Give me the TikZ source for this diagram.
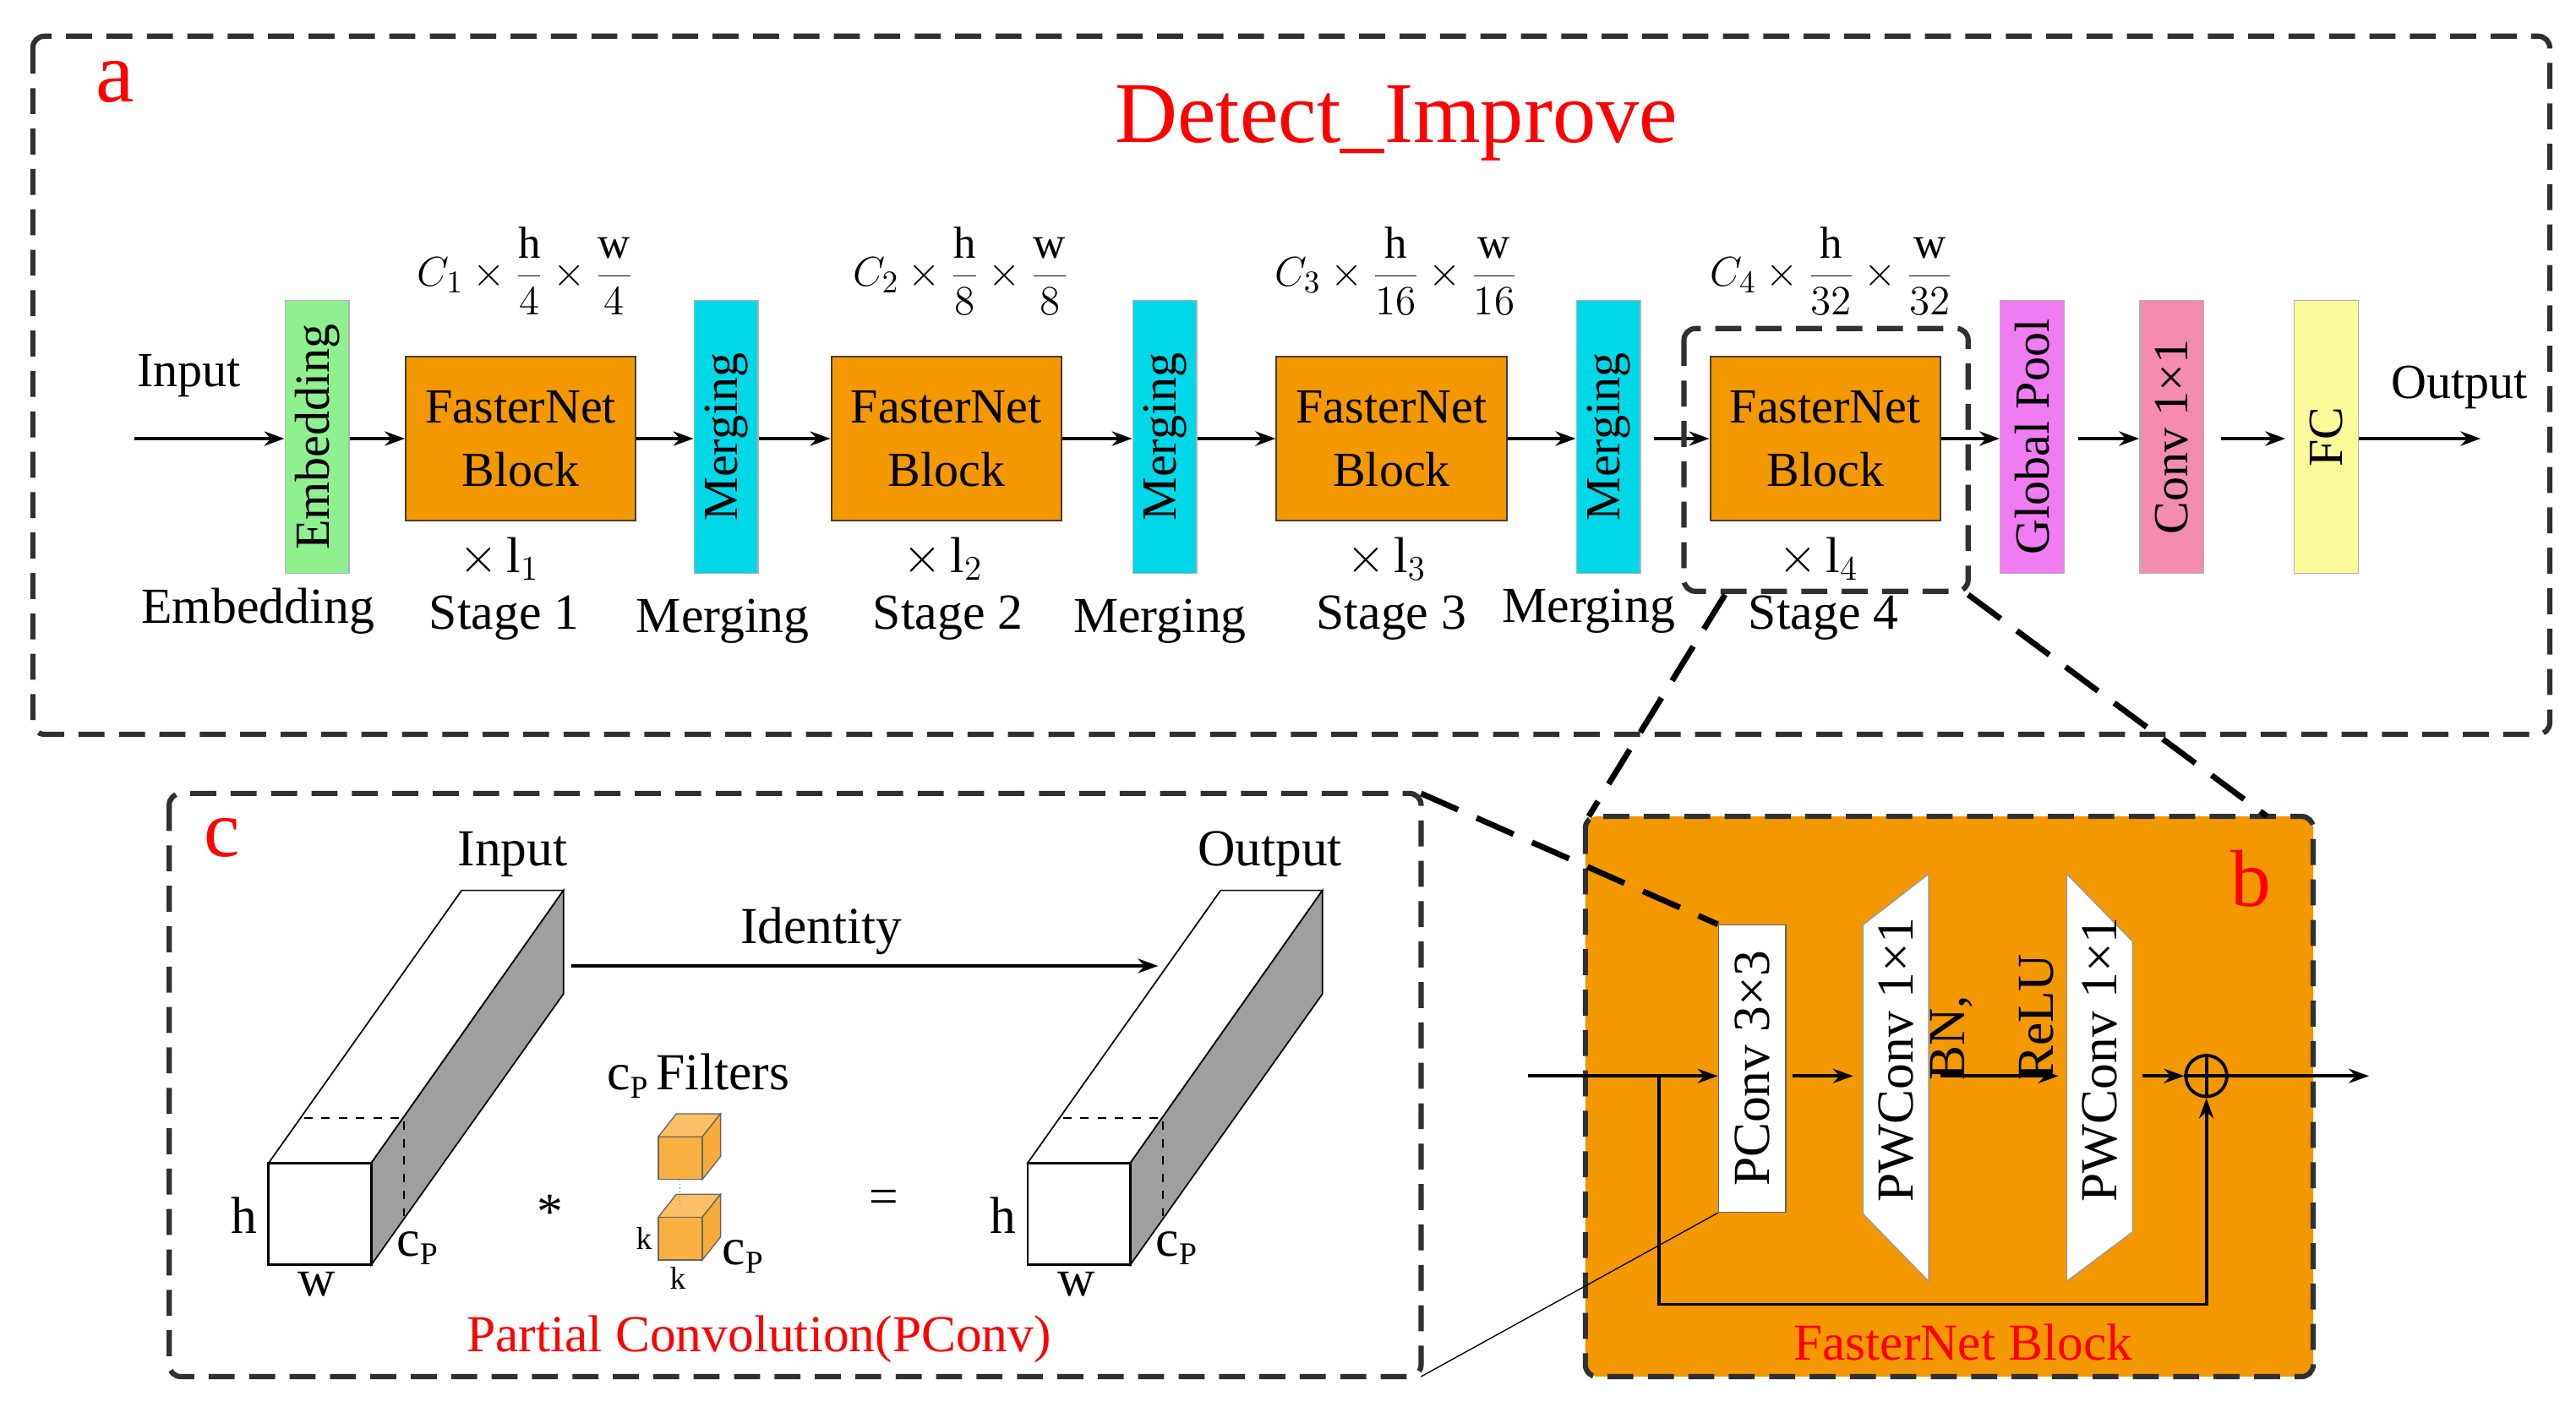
\documentclass[tikz,border=0pt]{standalone}
\usepackage{fontspec}
\setmainfont{Liberation Serif}
\usetikzlibrary{arrows.meta,calc}
\definecolor{orng}{HTML}{F39800}
\definecolor{grn}{HTML}{8EF08E}
\definecolor{cyn}{HTML}{00D8E8}
\definecolor{mag}{HTML}{F07CF4}
\definecolor{pnk}{HTML}{F48CB2}
\definecolor{ylw}{HTML}{FAFA9A}
\definecolor{cube}{HTML}{F8B040}
\definecolor{dk}{HTML}{303030}
\newcommand{\cpsub}{c\raisebox{-0.35ex}{\fontsize{11}{12}\selectfont P}}
\tikzset{
 fs/.style={font=\fontsize{17}{20}\selectfont},
 lab/.style={font=\fontsize{17.5}{20}\selectfont},
 sm/.style={font=\fontsize{18}{21}\selectfont},
 blk/.style={draw=black!75,fill=orng,minimum width=2.8cm,minimum height=2cm,align=center,fs,line width=0.6pt},
 thin/.style={draw=black!30,rotate=90,minimum width=3.32cm,minimum height=0.78cm,inner sep=0pt,fs},
 ar/.style={-{Stealth[length=7pt,width=5pt]},line width=1.1pt},
 dbox/.style={draw=dk,line width=1.8pt,dash pattern=on 9pt off 5pt,rounded corners=4pt},
 red/.style={text=red}
}
\begin{document}
\begin{tikzpicture}[x=0.02cm,y=0.02cm]
\useasboundingbox (0,0) rectangle (1568,-863);
% ---------- panel a
\draw[dbox] (20,-22) rectangle (1552,-447);
\node[red,font=\fontsize{30}{32}\selectfont] (la) at (70,-50) {a};
\node[red,font=\fontsize{30}{34}\selectfont] (title) at (850,-75) {Detect\_Improve};
\coordinate (in) at (82,-267);
\node[fs] (inl) at (115,-229) {Input};
\node[thin,fill=grn] (emb) at (193,-266) {Embedding};
\node[blk] (b1) at (317,-267) {FasterNet\\[2pt]Block};
\node[thin,fill=cyn] (m1) at (442,-266) {Merging};
\node[blk] (b2) at (576,-267) {FasterNet\\[2pt]Block};
\node[thin,fill=cyn] (m2) at (709,-266) {Merging};
\node[blk] (b3) at (847,-267) {FasterNet\\[2pt]Block};
\node[thin,fill=cyn] (m3) at (979,-266) {Merging};
\node[blk] (b4) at (1111,-267) {FasterNet\\[2pt]Block};
\node[thin,fill=mag] (gp) at (1237,-266) {Global Pool};
\node[thin,fill=pnk] (cv) at (1322,-266) {Conv 1\texttimes1};
\node[thin,fill=ylw] (fc) at (1416,-266) {FC};
\coordinate (out) at (1510,-267);
\node[fs] (outl) at (1497,-236) {Output};
\draw[ar] (in) -- (in -| emb.north);
\draw[ar] (emb.south |- b1) -- (b1.west);
\draw[ar] (b1.east) -- (b1.east -| m1.north);
\draw[ar] (m1.south |- b2) -- (b2.west);
\draw[ar] (b2.east) -- (b2.east -| m2.north);
\draw[ar] (m2.south |- b3) -- (b3.west);
\draw[ar] (b3.east) -- (b3.east -| m3.north);
\draw[ar] ($(m3.south |- b4)+(8,0)$) -- (b4.west);
\draw[ar] (b4.east) -- (b4.east -| gp.north);
\draw[ar] ($(gp.south |- b4)+(8,0)$) -- (cv.north |- b4);
\draw[ar] ($(cv.south |- b4)+(10,0)$) -- ($(fc.north |- b4)+(-5,0)$);
\draw[ar] (fc.south |- b4) -- (out);
% formulas
\foreach \n/\x/\dn in {1/320/4,2/585/8,3/850/16,4/1115/32}{
  \node[font=\fontsize{15.5}{18}\selectfont] at (\x,-165) {$\displaystyle C_{\n}\times\frac{\mathrm{h}}{\dn}\times\frac{\mathrm{w}}{\dn}$};
}
\foreach \n/\x in {1/307,2/577,3/847,4/1110}{
  \node[lab,inner sep=0pt] at (\x-3,-340) {$\times\,\mathrm{l}_{\n}$};
  \node[lab,inner sep=0pt] at (\x,-376) {Stage \n};
}
\node[lab] (le) at (157,-372) {Embedding};
\node[lab] (lm1) at (440,-378) {Merging};
\node[lab] (lm2) at (706,-378) {Merging};
\node[lab] (lm3) at (967,-372) {Merging};
\draw[dbox] (1025,-200) rectangle (1198,-360);
% ---------- panel b
\draw[dbox,fill=orng] (965,-497) rectangle (1408,-838);
\draw[line width=2pt,dash pattern=on 14pt off 7pt] (1050,-362) -- (967,-497);
\draw[line width=2pt,dash pattern=on 14pt off 7pt] (1198,-362) -- (1380,-497);
\node[red,font=\fontsize{28}{30}\selectfont] (lb) at (1370,-535) {b};
\node[red,sm] (fbl) at (1195,-817) {FasterNet Block};
\node[draw=black!60,fill=white,rotate=90,minimum width=3.5cm,minimum height=0.82cm,inner sep=0pt,sm] (pc) at (1066.5,-650.5) {PConv 3\texttimes3};
\draw[draw=black!40,fill=white] (1134,-563) -- (1174,-532) -- (1174,-780) -- (1134,-739) -- cycle;
\node[rotate=90,sm] (pw1) at (1154,-645) {PWConv 1\texttimes1};
\draw[draw=black!40,fill=white] (1258,-532) -- (1298,-573) -- (1298,-750) -- (1258,-780) -- cycle;
\node[rotate=90,sm] (pw2) at (1278,-645) {PWConv 1\texttimes1};
\node[draw,circle,line width=1.1pt,minimum size=0.5cm,inner sep=0pt] (plus) at (1343,-655) {};
\draw[line width=1.1pt] (plus.north) -- (plus.south) (plus.west) -- (plus.east);
\coordinate (bin) at (930,-655);
\coordinate (bout) at (1442,-655);
\coordinate (sk) at (1010,-655);
\draw[ar] (bin) -- (pc.north |- bin);
\draw[ar] ($(pc.south |- bin)+(4,0)$) -- (1128,-655);
\draw[ar] (1181,-655) -- (1253,-655);
\node[rotate=90,anchor=south west,sm,inner sep=1pt] (bn) at (1203,-660) {BN,};
\node[rotate=90,anchor=south west,sm,inner sep=1pt] (relu) at (1252,-660) {ReLU};
\draw[ar] (1304,-655) -- (plus.west);
\draw[ar] (plus.east) -- (bout);
\draw[ar] (sk) -- (1010,-794) -- (1343,-794) -- (plus.south);
% ---------- panel c
\draw[dbox] (103,-483) rectangle (865,-838);
\draw[line width=2pt,dash pattern=on 14pt off 7pt] (865,-483) -- (pc.north east);
\draw[line width=0.4pt] (865,-838) -- (pc.north west);
\node[red,font=\fontsize{28}{30}\selectfont] (lc) at (135,-510) {c};
\node[red,sm] (pcl) at (462,-815) {Partial Convolution(PConv)};
\foreach \ox in {0,462}{
 \begin{scope}[xshift=\ox*0.02cm]
 \draw[line width=0.5pt,fill=white] (163.5,-708) -- (281,-542) -- (343,-542) -- (226,-708) -- cycle;
 \draw[line width=0.5pt,fill=gray!75] (226,-708) -- (343,-542) -- (343,-605) -- (226,-770) -- cycle;
 \draw[line width=0.8pt,fill=white] (163.5,-708) rectangle (226,-770);
 \draw[dashed,line width=0.7pt] (185,-680.5) -- (246,-680.5) -- (246,-740);
 \node[sm] at (148.6,-740) {h};
 \node[sm] at (193,-782) {w};
 \node[sm] at (254,-760) {\cpsub};
 \end{scope}
}
\node[sm] (inp) at (312,-520) {Input};
\node[sm] (outp) at (773,-520) {Output};
\coordinate (i1) at (348,-588);
\coordinate (i2) at (705,-588);
\draw[ar] (i1) -- (i2);
\node[sm] (idl) at (500,-567) {Identity};
\node[sm] (star) at (335,-738) {*};
\node[sm] (eq) at (538,-732) {=};
\node[sm] (filt) at (425,-655) {\cpsub\,Filters};
\foreach \yy in {-718,-767}{
 \draw[draw=black!60,fill=cube!80!white,line width=0.4pt] (400.7,\yy+26) -- (411.7,\yy+40) -- (438.6,\yy+40) -- (427.5,\yy+26) -- cycle;
 \draw[draw=black!60,fill=cube!90!orange,line width=0.4pt] (427.5,\yy+26) -- (438.6,\yy+40) -- (438.6,\yy+14) -- (427.5,\yy) -- cycle;
 \draw[draw=black!60,fill=cube,line width=0.4pt] (400.7,\yy) rectangle (427.5,\yy+26);
}
\draw[densely dotted,black!50] (414,-718) -- (414,-733);
\node[font=\fontsize{11}{12}\selectfont] at (392,-754) {k};
\node[font=\fontsize{11}{12}\selectfont] at (412.6,-778) {k};
\node[sm] at (452,-765) {\cpsub};
\end{tikzpicture}
\end{document}
